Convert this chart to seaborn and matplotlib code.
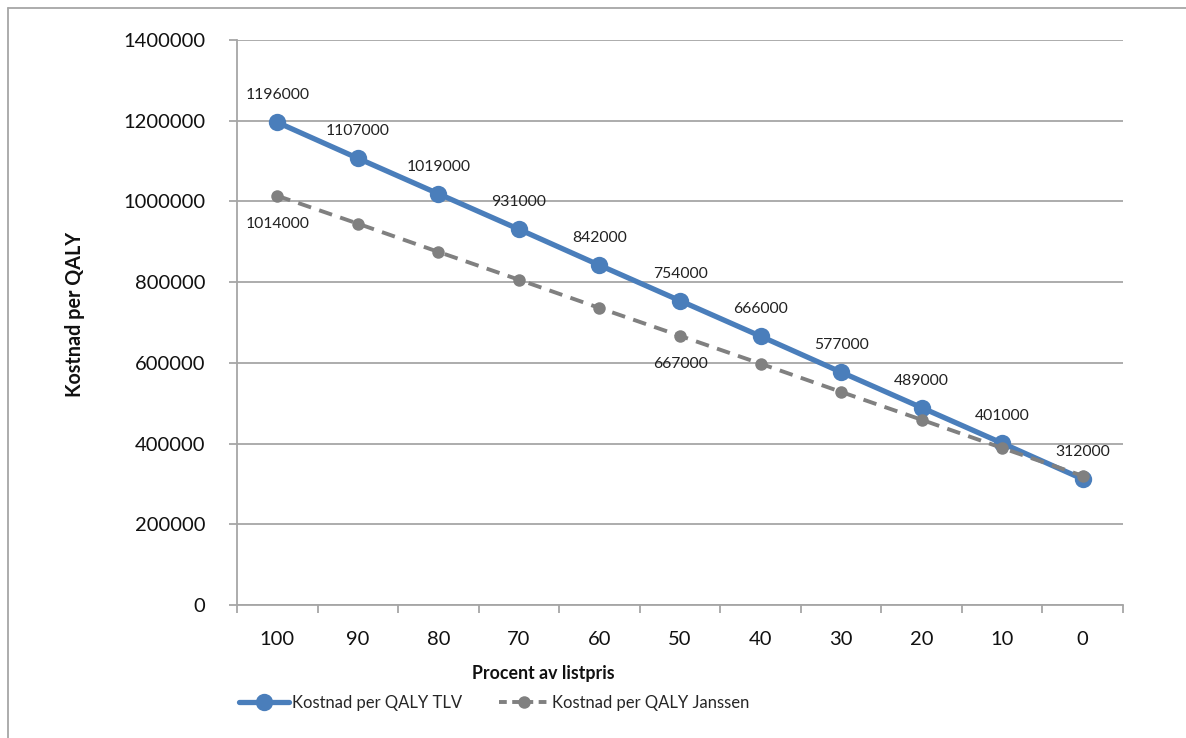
import numpy as np
import pandas as pd
import matplotlib
matplotlib.use("Agg")
import matplotlib.pyplot as plt
import seaborn as sns
from matplotlib.lines import Line2D

categories = ["100", "90", "80", "70", "60", "50", "40", "30", "20", "10", "0"]
tlv_values = [1196000, 1107000, 1019000, 931000, 842000, 754000, 666000, 577000, 489000, 401000, 312000]
janssen_values = [1014000, 945000, 875000, 806000, 736000, 667000, 598000, 528000, 459000, 389000, 320000]
janssen_labelled = ["100", "50"]
yticks = [0, 200000, 400000, 600000, 800000, 1000000, 1200000, 1400000]

sns.set_theme(style="white")
plt.rcParams['font.family'] = ['Lato', 'DejaVu Sans']

W, H = 1186, 738
fig = plt.figure(figsize=(W / 100, H / 100), dpi=100)
ax = fig.add_axes([237 / W, 1 - 605 / H, (1123 - 237) / W, (605 - 40) / H])

pos = np.arange(len(categories))
df_tlv = pd.DataFrame({"pos": pos, "value": tlv_values})
df_jan = pd.DataFrame({"pos": pos, "value": janssen_values})

blue = "#4a7ebb"
gray = "#808080"
grid_c = "#a6a6a6"

for y in yticks:
    ax.axhline(y, color=grid_c, lw=1.3, zorder=0)

sns.lineplot(data=df_tlv, x="pos", y="value", ax=ax, color=blue, lw=3.8,
             marker="o", markersize=12.5, markeredgewidth=0, zorder=3)
sns.lineplot(data=df_jan, x="pos", y="value", ax=ax, color=gray, lw=2.8,
             linestyle=(0, (3.5, 2.2)), marker="o", markersize=9,
             markeredgewidth=0, zorder=4)

for p, v in zip(pos, tlv_values):
    ax.annotate(f"{v}", (p, v), xytext=(0, 27), textcoords="offset pixels",
                ha="center", va="center", fontsize=11.3, color="#222222")
for p, c, v in zip(pos, categories, janssen_values):
    if c in janssen_labelled:
        ax.annotate(f"{v}", (p, v), xytext=(0, -28), textcoords="offset pixels",
                    ha="center", va="center", fontsize=11.3, color="#222222")

ax.set_xlim(-0.5, len(categories) - 0.5)
ax.set_ylim(0, 1400000)
ax.set_yticks(yticks)
ax.set_yticklabels([str(y) for y in yticks], fontsize=14.5, color="#111111")
ax.set_xticks(pos)
ax.set_xticklabels(categories, fontsize=14.5, color="#111111")
ax.set_xticks(np.arange(-0.5, len(categories)), minor=True)
ax.tick_params(axis="x", which="major", length=0, pad=19)
ax.tick_params(axis="x", which="minor", length=6, width=1.3, color=grid_c, direction="out", bottom=True)
ax.tick_params(axis="y", which="major", length=6, width=1.3, color=grid_c, direction="out", left=True, pad=17)

for s in ["top", "right"]:
    ax.spines[s].set_visible(False)
for s in ["left", "bottom"]:
    ax.spines[s].set_color(grid_c)
    ax.spines[s].set_linewidth(1.3)
ax.set_xlabel("")
ax.set_ylabel("")

fig.text(543 / W, 1 - 673 / H, "Procent av listpris", ha="center", va="center",
         fontsize=12.8, fontweight="bold", color="#111111")
fig.text(75 / W, 1 - 314 / H, "Kostnad per QALY", ha="center", va="center",
         rotation=90, fontsize=14.2, fontweight="bold", color="#111111")

h1 = Line2D([], [], color=blue, lw=3.8, marker="o", markersize=12.5, markeredgewidth=0)
h2 = Line2D([], [], color=gray, lw=2.8, linestyle=(0, (2.0, 1.4)), marker="o", markersize=9, markeredgewidth=0)
fig.legend([h1, h2], ["Kostnad per QALY TLV", "Kostnad per QALY Janssen"],
           loc="center", bbox_to_anchor=(494 / W, 1 - 703 / H), ncol=2,
           frameon=False, fontsize=12, handlelength=3.0, handletextpad=0.2,
           columnspacing=2.2, borderaxespad=0, borderpad=0)

# outer chart frame (left and top edges visible)
fig.add_artist(Line2D([8 / W, 8 / W], [0, 1 - 8 / H], transform=fig.transFigure, color="#a6a6a6", lw=1.3))
fig.add_artist(Line2D([8 / W, 1], [1 - 8 / H, 1 - 8 / H], transform=fig.transFigure, color="#a6a6a6", lw=1.3))

fig.savefig("out.png", dpi=100)
